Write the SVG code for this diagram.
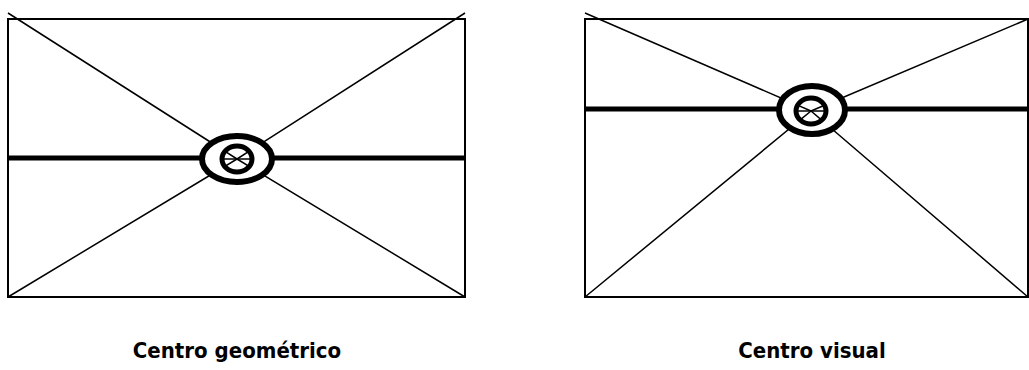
<svg xmlns="http://www.w3.org/2000/svg" width="1029" height="370" viewBox="0 0 1029 370">
<style>
.frame{fill:none;stroke:#000;stroke-width:2}
.thin{stroke:#000;stroke-width:1.5;fill:none}
.thick{stroke:#000;stroke-width:5;fill:none}
.outer{fill:#fff;stroke:#000;stroke-width:6}
.inner{fill:none;stroke:#000;stroke-width:5}
.label{font-family:"DejaVu Sans Condensed","DejaVu Sans",Verdana,sans-serif;font-stretch:condensed;font-weight:bold;font-size:22px;fill:#000;text-anchor:middle}
</style>
<defs>
<clipPath id="cl"><ellipse cx="237" cy="159" rx="15" ry="13"/></clipPath>
<clipPath id="cr"><ellipse cx="811" cy="111" rx="15" ry="13"/></clipPath>
</defs>
<rect width="1029" height="370" fill="#fff"/>
<g id="left">
<rect class="frame" x="8" y="19" width="457" height="278"/>
<g id="left-lines">
<path class="thin" d="M8 13 L237 159 M465 13 L237 159 M8 297 L237 159 M465 297 L237 159"/>
<path class="thick" d="M8 158 L465 158"/>
</g>
<ellipse class="outer" cx="237" cy="159" rx="35" ry="23"/>
<g clip-path="url(#cl)">
<path class="thin" d="M8 13 L237 159 M465 13 L237 159 M8 297 L237 159 M465 297 L237 159"/>
<path class="thin" d="M200 159 L280 159"/>
</g>
<ellipse class="inner" cx="237" cy="159" rx="15" ry="13"/>
<text class="label" x="237" y="358">Centro geométrico</text>
</g>
<g id="right">
<rect class="frame" x="585" y="19" width="443" height="278"/>
<g id="right-lines">
<path class="thin" d="M585 13 L811 111 M1028 19 L811 111 M585 297 L811 111 M1028 297 L811 111"/>
<path class="thick" d="M585 109 L1029 109"/>
</g>
<ellipse class="outer" cx="812" cy="110" rx="33" ry="24"/>
<g clip-path="url(#cr)">
<path class="thin" d="M585 13 L811 111 M1028 19 L811 111 M585 297 L811 111 M1028 297 L811 111"/>
<path class="thin" d="M780 111 L840 111"/>
</g>
<ellipse class="inner" cx="811" cy="111" rx="15" ry="13"/>
<text class="label" x="812" y="358">Centro visual</text>
</g>
</svg>
